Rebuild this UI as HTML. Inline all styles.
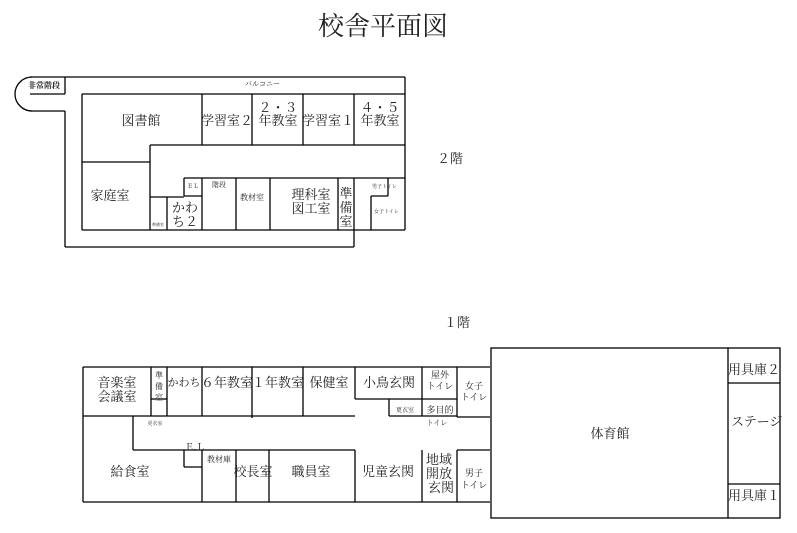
<!DOCTYPE html>
<html><head><meta charset="utf-8"><style>
html,body{margin:0;padding:0;background:#fff;}
svg{display:block;}
text{font-family:"Liberation Serif","Noto Serif CJK SC","Noto Sans CJK JP",serif;fill:#222;}
</style></head><body>
<svg width="797" height="533" viewBox="0 0 797 533" xmlns="http://www.w3.org/2000/svg">
<g stroke="#000" stroke-width="1.3" fill="none">
<path d="M32 77 A17 17 0 0 0 32 111"/>
<line x1="30" y1="77" x2="405" y2="77"/>
<line x1="65" y1="77" x2="65" y2="94"/>
<line x1="30" y1="94" x2="65" y2="94"/>
<line x1="30" y1="111" x2="65" y2="111"/>
<line x1="65" y1="111" x2="65" y2="247"/>
<line x1="65" y1="247" x2="354" y2="247"/>
<line x1="354" y1="230" x2="354" y2="247"/>
<line x1="405" y1="77" x2="405" y2="230"/>
<line x1="82" y1="94" x2="405" y2="94"/>
<line x1="82" y1="94" x2="82" y2="230"/>
<line x1="82" y1="230" x2="405" y2="230"/>
<line x1="202" y1="94" x2="202" y2="145"/>
<line x1="252" y1="94" x2="252" y2="145"/>
<line x1="303" y1="94" x2="303" y2="145"/>
<line x1="354" y1="94" x2="354" y2="145"/>
<line x1="150" y1="145" x2="405" y2="145"/>
<line x1="82" y1="162" x2="150" y2="162"/>
<line x1="150" y1="145" x2="150" y2="230"/>
<line x1="184" y1="178" x2="405" y2="178"/>
<line x1="184" y1="178" x2="184" y2="196"/>
<line x1="184" y1="196" x2="202" y2="196"/>
<line x1="202" y1="178" x2="202" y2="230"/>
<line x1="236" y1="178" x2="236" y2="230"/>
<line x1="270" y1="178" x2="270" y2="230"/>
<line x1="338" y1="178" x2="338" y2="230"/>
<line x1="354" y1="178" x2="354" y2="230"/>
<line x1="388" y1="178" x2="388" y2="196"/>
<line x1="371" y1="196" x2="388" y2="196"/>
<line x1="371" y1="196" x2="371" y2="230"/>
<line x1="150" y1="197" x2="184" y2="197"/>
<line x1="167" y1="197" x2="167" y2="230"/>
<line x1="83" y1="367" x2="490" y2="367"/>
<line x1="83" y1="367" x2="83" y2="502"/>
<line x1="83" y1="502" x2="490" y2="502"/>
<line x1="151" y1="367" x2="151" y2="416"/>
<line x1="167" y1="367" x2="167" y2="416"/>
<line x1="202" y1="367" x2="202" y2="416"/>
<line x1="252" y1="367" x2="252" y2="418"/>
<line x1="303" y1="367" x2="303" y2="416"/>
<line x1="355" y1="367" x2="355" y2="399"/>
<line x1="422" y1="367" x2="422" y2="416"/>
<line x1="457" y1="367" x2="457" y2="417"/>
<line x1="151" y1="399" x2="167" y2="399"/>
<line x1="83" y1="416" x2="355" y2="416"/>
<line x1="355" y1="399" x2="457" y2="399"/>
<line x1="389" y1="399" x2="389" y2="416"/>
<line x1="389" y1="416" x2="457" y2="416"/>
<line x1="457" y1="417" x2="490" y2="417"/>
<line x1="133" y1="416" x2="133" y2="450"/>
<line x1="133" y1="450" x2="355" y2="450"/>
<line x1="184" y1="450" x2="184" y2="467"/>
<line x1="184" y1="467" x2="202" y2="467"/>
<line x1="202" y1="450" x2="202" y2="502"/>
<line x1="236" y1="450" x2="236" y2="502"/>
<line x1="269" y1="450" x2="269" y2="502"/>
<line x1="355" y1="450" x2="355" y2="502"/>
<line x1="422" y1="450" x2="422" y2="502"/>
<line x1="457" y1="450" x2="490" y2="450"/>
<line x1="457" y1="450" x2="457" y2="502"/>
<rect x="491" y="348" width="289" height="170"/>
<line x1="728" y1="348" x2="728" y2="518"/>
<line x1="728" y1="383" x2="780" y2="383"/>
<line x1="728" y1="484" x2="780" y2="484"/>
</g>
<g font-size="13">
<text x="383" y="35" font-size="26" text-anchor="middle">校舎平面図</text>
<text x="450" y="163" text-anchor="middle">２階</text>
<text x="457" y="327" text-anchor="middle">１階</text>
<text x="28" y="88" font-size="8" font-weight="bold">非常階段</text>
<text x="245" y="86" font-size="7">バルコニー</text>
<text x="141" y="125" text-anchor="middle">図書館</text>
<text x="227" y="125" text-anchor="middle">学習室２</text>
<text x="278" y="112" text-anchor="middle">２・３</text>
<text x="278" y="125" text-anchor="middle">年教室</text>
<text x="328" y="125" text-anchor="middle">学習室１</text>
<text x="380" y="112" text-anchor="middle">４・５</text>
<text x="380" y="125" text-anchor="middle">年教室</text>
<text x="110" y="200" text-anchor="middle">家庭室</text>
<text x="193" y="188" font-size="6" text-anchor="middle">ＥＬ</text>
<text x="219" y="187" font-size="7" text-anchor="middle">階段</text>
<text x="252" y="200" font-size="8" text-anchor="middle">教材室</text>
<text x="311" y="199" text-anchor="middle">理科室</text>
<text x="311" y="213" text-anchor="middle">図工室</text>
<text x="346" y="198" text-anchor="middle">準</text>
<text x="346" y="212" text-anchor="middle">備</text>
<text x="346" y="226" text-anchor="middle">室</text>
<text x="372" y="188" font-size="5">男子トイレ</text>
<text x="374" y="213" font-size="5">女子トイレ</text>
<text x="158" y="226" font-size="4" text-anchor="middle">準備室</text>
<text x="185" y="212" text-anchor="middle">かわ</text>
<text x="185" y="226" text-anchor="middle">ち２</text>
<text x="117" y="387" text-anchor="middle">音楽室</text>
<text x="117" y="401" text-anchor="middle">会議室</text>
<text x="159" y="378" font-size="8" text-anchor="middle">準</text>
<text x="159" y="389" font-size="8" text-anchor="middle">備</text>
<text x="159" y="400" font-size="8" text-anchor="middle">室</text>
<text x="184" y="386" font-size="11" text-anchor="middle">かわち</text>
<text x="227" y="387" text-anchor="middle">６年教室</text>
<text x="278" y="387" text-anchor="middle">１年教室</text>
<text x="329" y="387" text-anchor="middle">保健室</text>
<text x="389" y="387" text-anchor="middle">小鳥玄関</text>
<text x="440" y="378" font-size="9" text-anchor="middle">屋外</text>
<text x="440" y="389" font-size="9" text-anchor="middle">トイレ</text>
<text x="474" y="389" font-size="9" text-anchor="middle">女子</text>
<text x="474" y="400" font-size="9" text-anchor="middle">トイレ</text>
<text x="405" y="412" font-size="6" text-anchor="middle">更衣室</text>
<text x="440" y="413" font-size="9" text-anchor="middle">多目的</text>
<text x="437" y="425" font-size="7" text-anchor="middle">トイレ</text>
<text x="155" y="425" font-size="5" text-anchor="middle">更衣室</text>
<text x="195" y="450" font-size="9" text-anchor="middle">Ｅ.Ｌ</text>
<text x="130" y="476" text-anchor="middle">給食室</text>
<text x="219" y="462" font-size="8" text-anchor="middle">教材庫</text>
<text x="253" y="476" text-anchor="middle">校長室</text>
<text x="311" y="476" text-anchor="middle">職員室</text>
<text x="388" y="476" text-anchor="middle">児童玄関</text>
<text x="439" y="464" text-anchor="middle">地域</text>
<text x="439" y="478" text-anchor="middle">開放</text>
<text x="441" y="492" text-anchor="middle">玄関</text>
<text x="474" y="476" font-size="9" text-anchor="middle">男子</text>
<text x="474" y="488" font-size="9" text-anchor="middle">トイレ</text>
<text x="610" y="438" text-anchor="middle">体育館</text>
<text x="754" y="374" text-anchor="middle">用具庫２</text>
<text x="731" y="426">ステージ</text>
<text x="754" y="500" text-anchor="middle">用具庫１</text>
</g>
</svg>
</body></html>
